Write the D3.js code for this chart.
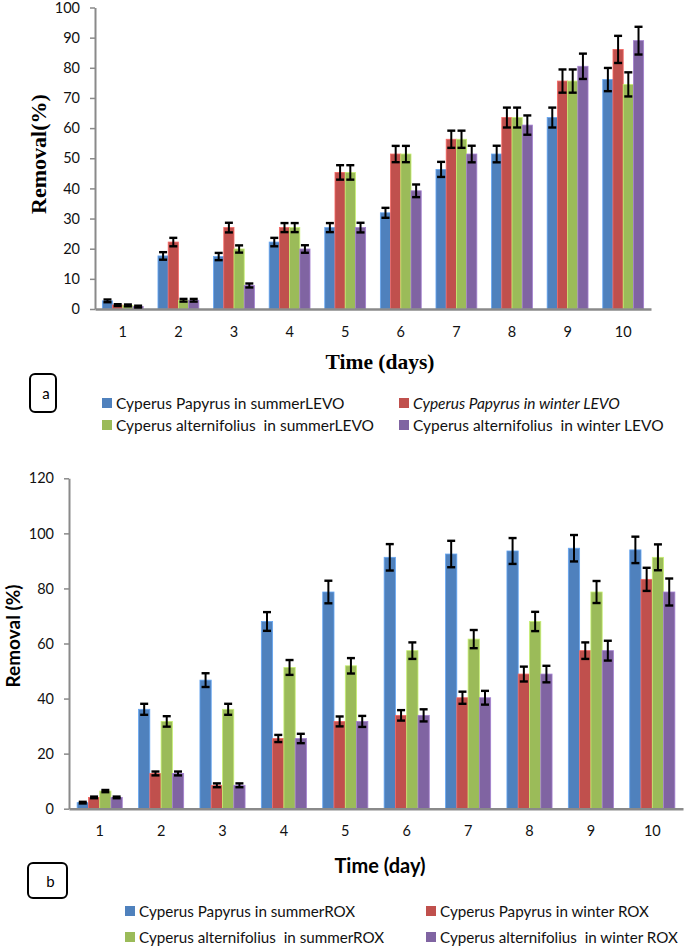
<!DOCTYPE html>
<html><head><meta charset="utf-8">
<script src="https://cdn.jsdelivr.net/npm/d3@7"></script>
<style>
html,body{margin:0;padding:0;background:#fff;}
svg{display:block;}
text{white-space:pre;}
</style></head>
<body>
<svg id="chart" width="685" height="948"></svg>
<script>
// ---------- DATA ----------
const days = ["1","2","3","4","5","6","7","8","9","10"];

const levoNames = ["Cyperus Papyrus in summerLEVO","Cyperus Papyrus in winter LEVO",
                   "Cyperus alternifolius  in summerLEVO","Cyperus alternifolius  in winter LEVO"];
const levoPapSummer = [2.7, 17.6, 17.4, 22.2, 27.0, 31.9, 46.3, 51.4, 63.5, 76.1];
const levoPapWinter = [1.3, 22.2, 27.0, 27.0, 45.3, 51.4, 56.3, 63.5, 75.6, 86.1];
const levoAltSummer = [1.2, 2.9, 19.9, 27.0, 45.3, 51.4, 56.3, 63.5, 75.6, 74.5];
const levoAltWinter = [0.8, 2.9, 7.8, 19.9, 27.0, 39.2, 51.4, 61.0, 80.5, 89.0];
const levoErrPapSummer = [0.45, 1.25, 1.2, 1.4, 1.5, 1.65, 2.5, 2.75, 3.3, 3.85];
const levoErrPapWinter = [0.3, 1.4, 1.6, 1.5, 2.4, 2.7, 2.85, 3.3, 3.85, 4.5];
const levoErrAltSummer = [0.3, 0.45, 1.2, 1.5, 2.4, 2.7, 2.85, 3.3, 3.85, 4.0];
const levoErrAltWinter = [0.3, 0.45, 0.66, 1.25, 1.6, 2.1, 2.75, 3.2, 4.2, 4.6];
const levoTicks = [0,10,20,30,40,50,60,70,80,90,100];

const roxNames = ["Cyperus Papyrus in summerROX","Cyperus Papyrus in winter ROX",
                  "Cyperus alternifolius  in summerROX","Cyperus alternifolius  in winter ROX"];
const roxPapSummer = [2.2, 36.1, 46.7, 68.0, 78.7, 91.3, 92.5, 93.6, 94.6, 94.0];
const roxPapWinter = [4.1, 12.8, 8.5, 25.5, 31.7, 33.9, 40.3, 48.9, 57.4, 83.3];
const roxAltSummer = [6.4, 31.7, 36.1, 51.3, 51.9, 57.4, 61.6, 68.0, 78.7, 91.3];
const roxAltWinter = [4.1, 12.8, 8.5, 25.5, 31.7, 33.9, 40.3, 48.9, 57.4, 78.7];
const roxErrPapSummer = [0.3, 2.0, 2.5, 3.4, 4.1, 4.8, 4.8, 4.7, 4.8, 4.8];
const roxErrPapWinter = [0.3, 0.7, 0.7, 1.3, 1.8, 1.9, 2.2, 2.7, 3.0, 4.2];
const roxErrAltSummer = [0.4, 1.9, 2.0, 2.7, 2.8, 3.0, 3.3, 3.5, 4.0, 4.7];
const roxErrAltWinter = [0.3, 0.7, 0.7, 1.7, 2.0, 2.2, 2.5, 3.0, 3.6, 4.9];
const roxTicks = [0,20,40,60,80,100,120];

const colors = ["#4F81BD","#C0504D","#9BBB59","#8064A2"];

// ---------- DRAW ----------
const svg = d3.select("#chart");
const sans = "Lato, 'Open Sans', sans-serif";
const serif = "'Liberation Serif', 'Times New Roman', serif";

function drawPanel(cfg){
  const g = svg.append("g");
  const x = d3.scaleBand().domain(days).range(cfg.xRange).paddingInner(0.265).paddingOuter(0.1325);
  const xs = d3.scaleBand().domain([0,1,2,3]).range([0, x.bandwidth()]);
  const y = d3.scaleLinear().domain([0, cfg.yMax]).range(cfg.yRange);

  const series = cfg.values.map((vals,i)=>({i, vals, errs:cfg.errs[i]}));
  const sg = g.selectAll("g.series").data(series).join("g").attr("class","series");
  sg.selectAll("rect").data(s=>s.vals.map((v,k)=>({v,k,i:s.i})))
    .join("rect")
    .attr("x", d=>x(days[d.k]) + xs(d.i))
    .attr("y", d=>y(d.v))
    .attr("width", xs.bandwidth())
    .attr("height", d=>y(0)-y(d.v))
    .attr("fill", d=>colors[d.i])
    .attr("stroke", d=>d3.color(colors[d.i]).brighter(0.7))
    .attr("stroke-width", 0.8);

  // y axis
  const ya = g.append("g").attr("transform",`translate(${cfg.xRange[0]},0)`)
    .call(d3.axisLeft(y).tickValues(cfg.ticks).tickSize(5).tickSizeOuter(0).tickPadding(10));
  ya.select(".domain").attr("stroke","#8a8a8a").attr("stroke-width",2);
  ya.selectAll(".tick line").attr("stroke","#8a8a8a").attr("stroke-width",1.5);
  ya.selectAll(".tick text").attr("font-family",sans).attr("font-size",14.5).attr("fill","#111");

  // x axis
  const xa = g.append("g").attr("transform",`translate(0,${cfg.yRange[0]})`)
    .call(d3.axisBottom(x).tickSize(0).tickSizeOuter(0).tickPadding(cfg.xPad));
  xa.select(".domain").attr("stroke","#8a8a8a").attr("stroke-width",2.5);
  xa.selectAll(".tick text").attr("font-family",sans).attr("font-size",14.5).attr("fill","#111");

  // error bars
  const eb = g.append("g");
  series.forEach(s=>{
    s.vals.forEach((v,k)=>{
      const cx = x(days[k]) + xs(s.i) + xs.bandwidth()/2;
      const e = s.errs[k];
      const y1 = y(v+e), y2 = y(v-e);
      eb.append("line").attr("x1",cx).attr("x2",cx).attr("y1",y1).attr("y2",y2)
        .attr("stroke","#000").attr("stroke-width",2);
      [y1,y2].forEach(yy=>eb.append("line").attr("x1",cx-4).attr("x2",cx+4).attr("y1",yy).attr("y2",yy)
        .attr("stroke","#000").attr("stroke-width",2.4));
    });
  });

  // titles
  g.append("text").attr("transform",`translate(${cfg.yTitlePos[0]},${cfg.yTitlePos[1]}) rotate(-90)`)
    .attr("text-anchor","middle").attr("dominant-baseline","central")
    .attr("font-family",cfg.titleFont).attr("font-weight","bold").attr("font-size",cfg.yTitleSize)
    .attr("fill","#000").text(cfg.yTitle);
  g.append("text").attr("x",cfg.xTitlePos[0]).attr("y",cfg.xTitlePos[1])
    .attr("text-anchor","middle").attr("dominant-baseline","central")
    .attr("font-family",cfg.titleFont).attr("font-weight","bold").attr("font-size",cfg.xTitleSize)
    .attr("fill","#000").text(cfg.xTitle);

  // panel label box
  const b = cfg.box;
  g.append("rect").attr("x",b[0]).attr("y",b[1]).attr("width",b[2]).attr("height",b[3])
    .attr("rx",5).attr("fill","#fff").attr("stroke","#000").attr("stroke-width",2);
  g.append("text").attr("x",b[0]+b[2]/2+3).attr("y",b[1]+b[3]/2)
    .attr("text-anchor","middle").attr("dominant-baseline","central")
    .attr("font-family",sans).attr("font-size",15).attr("fill","#000").text(cfg.label);

  // legend
  cfg.names.forEach((n,i)=>{
    const lx = cfg.legX[i%2], ly = cfg.legY[Math.floor(i/2)];
    g.append("rect").attr("x",lx).attr("y",ly-5).attr("width",10).attr("height",10).attr("fill",colors[i]);
    g.append("text").attr("x",lx+14).attr("y",ly).attr("dominant-baseline","central")
      .attr("font-family",sans).attr("font-size",cfg.legSize).attr("fill","#111")
      .attr("font-style", (cfg.italic && i===1) ? "italic" : "normal")
      .text(n);
  });
}

drawPanel({
  values:[levoPapSummer, levoPapWinter, levoAltSummer, levoAltWinter],
  errs:[levoErrPapSummer, levoErrPapWinter, levoErrAltSummer, levoErrAltWinter],
  ticks: levoTicks, yMax:100, xRange:[95,651], yRange:[309,7.5], xPad:18,
  yTitle:"Removal(%)", yTitlePos:[38.5,154], yTitleSize:22,
  xTitle:"Time (days)", xTitlePos:[380,362], xTitleSize:21.5, titleFont:serif,
  box:[30,374,26,38], label:"a",
  names: levoNames, legX:[102,399], legY:[403,425], legSize:15.5, italic:true
});

drawPanel({
  values:[roxPapSummer, roxPapWinter, roxAltSummer, roxAltWinter],
  errs:[roxErrPapSummer, roxErrPapWinter, roxErrAltSummer, roxErrAltWinter],
  ticks: roxTicks, yMax:120, xRange:[69,683], yRange:[808.7,478.3], xPad:17,
  yTitle:"Removal (%)", yTitlePos:[12,636], yTitleSize:19,
  xTitle:"Time (day)", xTitlePos:[380,865], xTitleSize:20, titleFont:sans,
  box:[28,863,39,35], label:"b",
  names: roxNames, legX:[125,426], legY:[911,937], legSize:15.2, italic:false
});
</script>
</body></html>
